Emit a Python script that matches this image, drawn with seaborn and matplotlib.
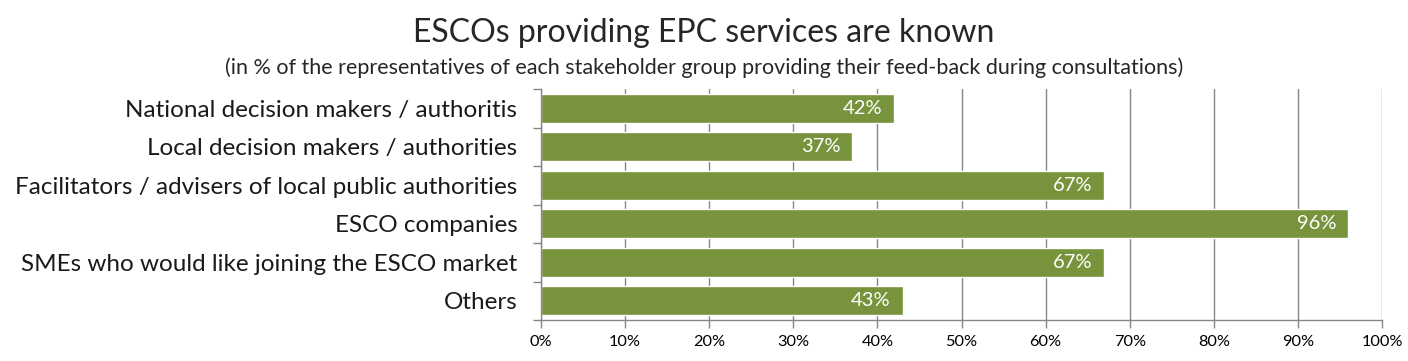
import matplotlib
matplotlib.use("Agg")
import matplotlib.pyplot as plt
import seaborn as sns
import pandas as pd

categories = [
    "National decision makers / authoritis",
    "Local decision makers / authorities",
    "Facilitators / advisers of local public authorities",
    "ESCO companies",
    "SMEs who would like joining the ESCO market",
    "Others",
]
values = [42, 37, 67, 96, 67, 43]
xticks = [0, 10, 20, 30, 40, 50, 60, 70, 80, 90, 100]

sns.set_theme(style="white")
plt.rcParams['font.family'] = ['Lato', 'DejaVu Sans']

df = pd.DataFrame({"cat": categories, "val": values})

fig = plt.figure(figsize=(14.08, 3.61), dpi=100)
ax = fig.add_axes([541/1408, 1-320/361, (1382-541)/1408, (320-89)/361])

green = "#77933C"
grid = "#868686"
sns.barplot(data=df, x="val", y="cat", color=green, saturation=1, width=0.76, ax=ax, orient="h")

ax.set_xlim(0, 100)
ax.set_xticks(xticks)
ax.set_xticklabels([f"{t}%" for t in xticks], fontsize=11.8, color="#000000")
ax.set_xlabel("")
ax.set_ylabel("")
ax.tick_params(axis="y", labelsize=17.5, colors="#1a1a1a", length=6, color=grid, width=1, pad=17)
ax.tick_params(axis="x", length=6, color=grid, width=1, pad=5, bottom=True)
ax.set_yticks([i - 0.5 for i in range(len(categories) + 1)], minor=True)
ax.tick_params(axis="y", which="minor", length=6, color=grid, left=True)
ax.tick_params(axis="y", which="major", length=0)
ax.set_ylim(len(categories) - 0.5, -0.5)

ax.xaxis.grid(True, color=grid, linewidth=1)
ax.set_axisbelow(True)
for s in ["top", "right"]:
    ax.spines[s].set_visible(False)
for s in ["left", "bottom"]:
    ax.spines[s].set_color(grid)
    ax.spines[s].set_linewidth(1)

for i, v in enumerate(values):
    ax.text(v - 1.4, i, f"{v}%", ha="right", va="center", color="white", fontsize=14.5)

fig.text(0.5, 1-33/361, "ESCOs providing EPC services are known", ha="center", va="center", fontsize=23)
fig.text(0.5, 1-68/361, "(in % of the representatives of each stakeholder group providing their feed-back during consultations)", ha="center", va="center", fontsize=15.5)

fig.savefig("out.png", dpi=100)
